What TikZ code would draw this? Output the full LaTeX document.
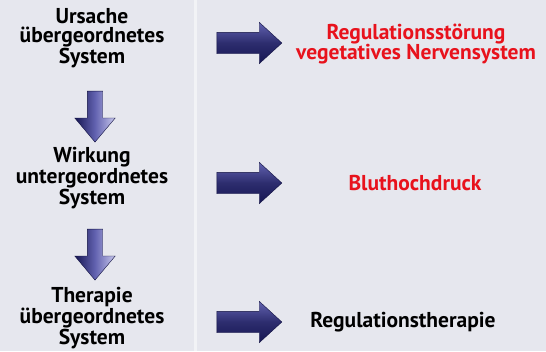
\documentclass[tikz,border=0pt]{standalone}
\usepackage{fontspec}
\setmainfont{PT Sans}
\usetikzlibrary{shapes.arrows}
\definecolor{bg}{RGB}{230,231,238}
\definecolor{navy}{RGB}{22,22,82}
\definecolor{midblue}{RGB}{98,98,176}
\definecolor{lavender}{RGB}{200,200,236}
\definecolor{alarm}{RGB}{232,18,28}
\tikzset{
	label/.style={align=center,font=\bfseries\fontsize{21.5}{19.5}\selectfont,inner sep=0pt},
	rightarrow/.style={single arrow,draw=navy!80!black,line width=0.4pt,inner sep=10.5pt,
		minimum height=65pt,single arrow head extend=10pt,
		single arrow tip angle=85,top color=midblue,bottom color=navy,middle color=navy!70!midblue},
	downarrow/.style={single arrow,shape border rotate=270,draw=navy!80!black,line width=0.4pt,inner sep=7.5pt,
		minimum height=51pt,single arrow head extend=12.5pt,
		single arrow tip angle=80,left color=navy,right color=lavender,middle color=midblue}
}
\begin{document}
\begin{tikzpicture}[x=1pt,y=-1pt]
				\fill[bg] (0,0) rectangle (546,351);
				\fill[white,opacity=0.5] (193.5,0) rectangle (196.5,351);
				\useasboundingbox (0,0) rectangle (546,351);
				% left column
				\node[label] (ursache) at (92,38) {Ursache\\übergeordnetes\\System};
				\node[label] (wirkung) at (92,178) {Wirkung\\untergeordnetes\\System};
				\node[label] (therapie) at (92,318) {Therapie\\übergeordnetes\\System};
				\node[downarrow] (down1) at (95,112) {};
				\node[downarrow] (down2) at (95,250) {};
				% right column
				\node[label,text=alarm] (stoerung) at (416,44) {Regulationsstörung\\vegetatives Nervensystem};
				\node[label,text=alarm] (hochdruck) at (415,183) {Bluthochdruck};
				\node[label] (regtherapie) at (403,322) {Regulationstherapie};
				\node[rightarrow] (right1) at (243.5,43) {};
				\node[rightarrow] (right2) at (243.5,183) {};
				\node[rightarrow] (right3) at (243.5,322) {};
			\end{tikzpicture}
\end{document}
